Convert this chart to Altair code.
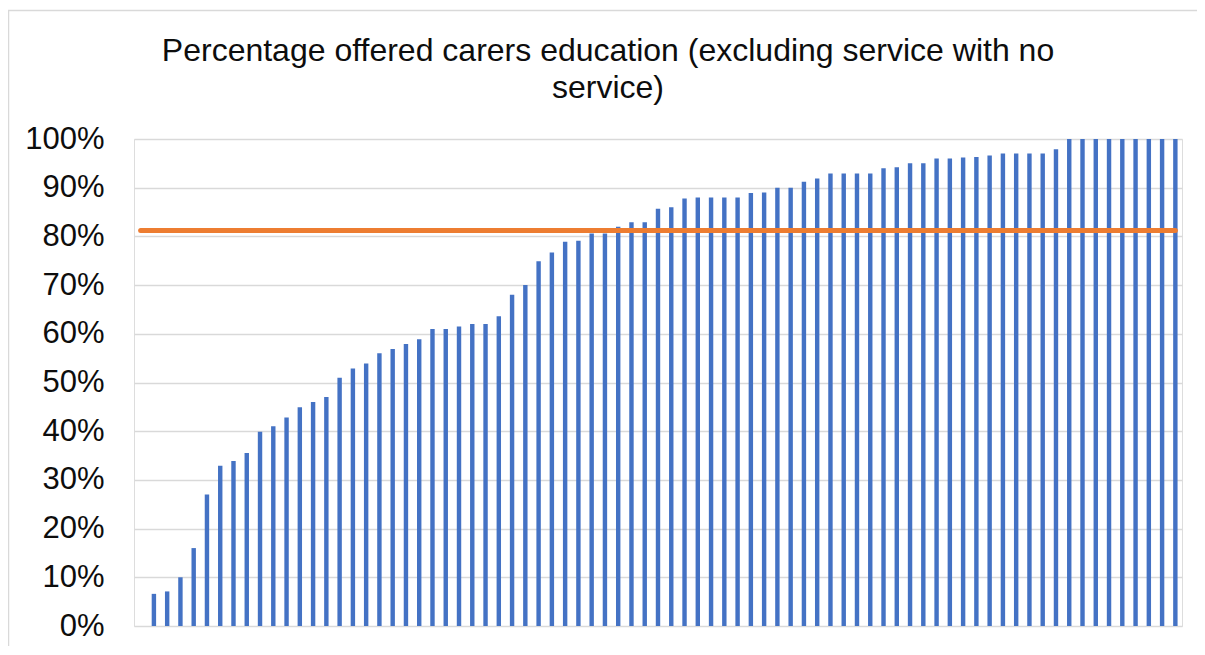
import altair as alt
import pandas as pd

# one empty slot at the start, then 78 services sorted ascending
values = [
    0.0,
    0.066, 0.071, 0.100, 0.160, 0.270, 0.329, 0.339, 0.355, 0.399, 0.410,
    0.428, 0.449, 0.460, 0.470, 0.510, 0.529, 0.539, 0.560, 0.569, 0.579,
    0.589, 0.610, 0.610, 0.615, 0.620, 0.620, 0.636, 0.680, 0.700, 0.749,
    0.767, 0.789, 0.791, 0.806, 0.806, 0.820, 0.829, 0.829, 0.857, 0.860,
    0.878, 0.880, 0.880, 0.880, 0.880, 0.889, 0.890, 0.900, 0.900, 0.912,
    0.919, 0.929, 0.929, 0.929, 0.929, 0.940, 0.942, 0.950, 0.950, 0.960,
    0.960, 0.962, 0.963, 0.966, 0.970, 0.970, 0.970, 0.970, 0.979, 1.000,
    1.000, 1.000, 1.000, 1.000, 1.000, 1.000, 1.000, 1.000,
]
average = 0.812
categories = [f"S{i:02d}" for i in range(len(values))]
title_lines = ["Percentage offered carers education (excluding service with no", "service)"]
y_ticks = [i / 10 for i in range(11)]

df = pd.DataFrame({"service": categories, "pct": values, "avg": [average] * len(values)})
title_df = pd.DataFrame({"k": [0]})

W, H = 1048, 487

x = alt.X("service:N", sort=categories, axis=None,
          scale=alt.Scale(paddingInner=0.667, paddingOuter=0.3335))
yscale = alt.Scale(domain=[0, 1], nice=False)

bars = alt.Chart(df).mark_bar(color="#4472C4").encode(
    x=x,
    y=alt.Y("pct:Q", scale=yscale, title=None,
            axis=alt.Axis(format=".0%", values=y_ticks, domain=False, ticks=False,
                          labelFontSize=31, labelFont="Liberation Sans", labelColor="#0d0d0d",
                          labelPadding=30, grid=True, gridColor="#d9d9d9", gridWidth=1.5)),
)

line = alt.Chart(df).mark_line(color="#ED7D31", strokeWidth=5, strokeCap="round").encode(
    x=x,
    y=alt.Y("avg:Q", scale=yscale),
)

border_top = alt.Chart(title_df).mark_rule(color="#d9d9d9", strokeWidth=1.5).encode(
    x=alt.value(-126), x2=alt.value(W + 40), y=alt.value(-128.5)
)
border_left = alt.Chart(title_df).mark_rule(color="#d9d9d9", strokeWidth=1.5).encode(
    x=alt.value(-125.5), y=alt.value(-128.5), y2=alt.value(H + 40)
)

title = alt.Chart(title_df).mark_text(
    fontSize=32, font="Liberation Sans", color="#0d0d0d", align="center",
    baseline="top", lineHeight=36.5,
).encode(x=alt.value(474), y=alt.value(-103), text=alt.value(title_lines))

chart = alt.layer(bars, line, border_top, border_left, title).properties(
    width=W, height=H,
    autosize=alt.AutoSizeParams(type="none"),
    padding={"left": 126, "top": 131, "right": 15, "bottom": 20},
).configure_view(stroke=None).configure(background="white")

chart.save("out.html", embed_options={"renderer": "svg", "actions": False})
